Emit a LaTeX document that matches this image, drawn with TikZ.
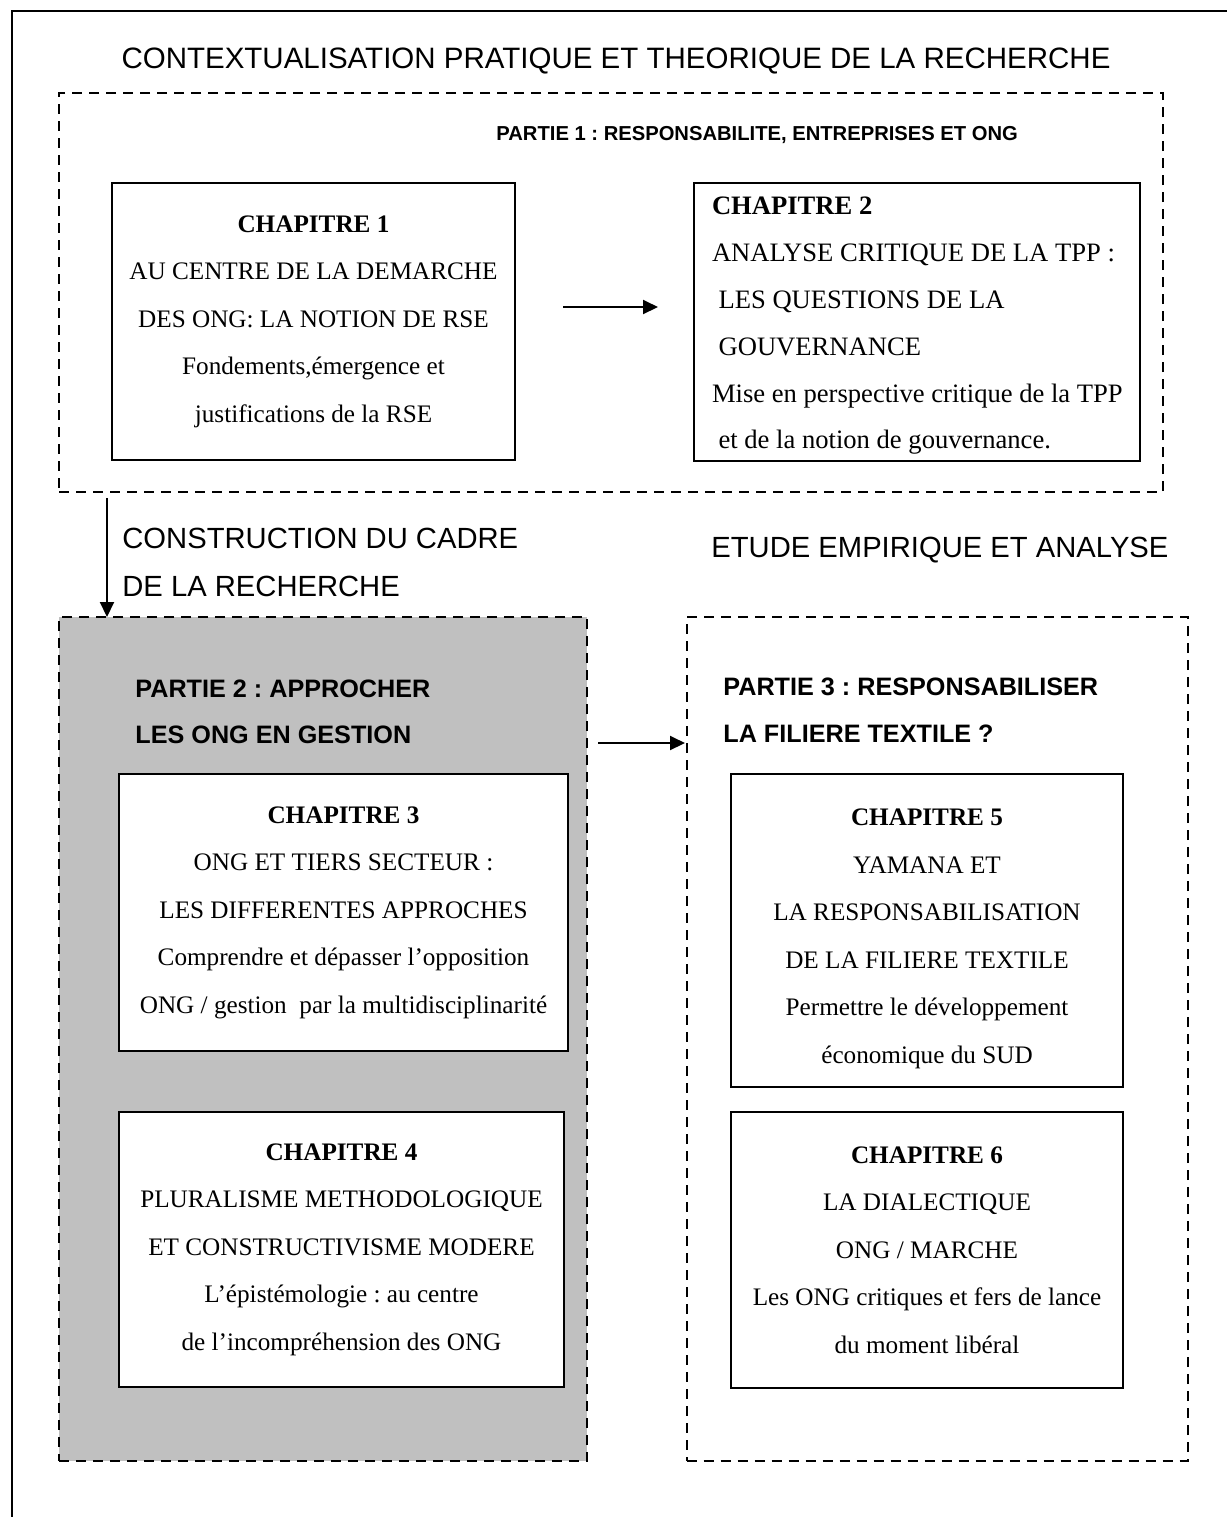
\documentclass[tikz,border=0pt]{standalone}
\usepackage{fontspec}
\setmainfont{Liberation Serif}
\newfontfamily\arialf{Liberation Sans}
\usetikzlibrary{arrows.meta}
\newcommand\chapfont{\fontsize{12.6}{23.75}\selectfont}
\begin{document}
\frenchspacing
\begin{tikzpicture}[x=0.5pt,y=-0.5pt,
  chbox/.style={draw, line width=1pt, fill=white, inner sep=0pt, outer sep=0pt, align=center, font=\chapfont},
  chtext/.style={inner sep=0pt, outer sep=0pt, align=center, font=\chapfont},
  dbox/.style={draw, line width=1pt, dash pattern=on 5pt off 3.5pt, inner sep=0pt, outer sep=0pt},
  sans/.style={font=\fontsize{14.6}{24}\selectfont\arialf, anchor=base west, inner sep=0pt},
  partlbl/.style={font=\fontsize{10.1}{23.5}\selectfont\arialf\bfseries, anchor=base west, inner sep=0pt},
  partlblb/.style={font=\fontsize{12.6}{23.5}\selectfont\arialf\bfseries, anchor=base west, inner sep=0pt},
  arr/.style={line width=1pt, -{Triangle[length=7.5pt,width=7pt]}}]
\useasboundingbox (0,0) rectangle (1227,1517);
% outer frame
\draw[line width=1pt] (1227,10.5) -- (11.5,10.5) -- (11.5,1517);
% title
\node[sans, font=\fontsize{14.75}{24}\selectfont\arialf, anchor=base] (title) at (616,68) {CONTEXTUALISATION PRATIQUE ET THEORIQUE DE LA RECHERCHE};
% part 1 dashed frame
\node[dbox, minimum width=552pt, minimum height=199.5pt] (p1) at (611,292.5) {};
\node[partlbl] (p1l) at (496,140) {PARTIE 1 : RESPONSABILITE, ENTREPRISES ET ONG};
\node[chbox, minimum width=201.5pt, minimum height=138.5pt] (c1) at (313.5,321.5)
  {\textbf{CHAPITRE 1}\\AU CENTRE DE LA DEMARCHE\\DES ONG: LA NOTION DE RSE\\Fondements,émergence et\\justifications de la RSE};
\node[chbox, minimum width=223pt, minimum height=139pt] (c2) at (917,322) {};
\node[chtext, align=left, anchor=west, font=\fontsize{13.3}{23.4}\selectfont] (c2t) at (712,326)
  {\textbf{CHAPITRE 2}\\ANALYSE CRITIQUE DE LA TPP :\\\hspace*{3.3pt}LES QUESTIONS DE LA\\\hspace*{3.3pt}GOUVERNANCE\\Mise en perspective critique de la TPP\\\hspace*{3.3pt}et de la notion de gouvernance.};
\coordinate (a1s) at (563,307);
\coordinate (a1e) at (658,307);
\draw[arr] (a1s) -- (a1e);
% middle labels
\coordinate (a2s) at (107,498);
\coordinate (a2e) at (107,617);
\draw[arr] (a2s) -- (a2e);
\node[sans] (cons1) at (122,548) {CONSTRUCTION DU CADRE};
\node[sans] (cons2) at (122,596) {DE LA RECHERCHE};
\node[sans] (etude) at (711,557) {ETUDE EMPIRIQUE ET ANALYSE};
% part 2
\node[dbox, fill={rgb,255:red,192;green,192;blue,192}, minimum width=264pt, minimum height=422pt] (p2) at (323,1039) {};
\node[partlblb] (p2l1) at (135,697) {PARTIE 2 : APPROCHER};
\node[partlblb] (p2l2) at (135,743) {LES ONG EN GESTION};
\node[chbox, minimum width=224.5pt, minimum height=138.5pt] (c3) at (343.5,912.5)
  {\textbf{CHAPITRE 3}\\ONG ET TIERS SECTEUR :\\LES DIFFERENTES APPROCHES\\Comprendre et dépasser l’opposition\\ONG / gestion\ \ par la multidisciplinarité};
\node[chbox, minimum width=222.5pt, minimum height=137.5pt] (c4) at (341.5,1249.5)
  {\textbf{CHAPITRE 4}\\PLURALISME METHODOLOGIQUE\\ET CONSTRUCTIVISME MODERE\\L’épistémologie : au centre\\de l’incompréhension des ONG};
% part 3
\node[dbox, minimum width=250.5pt, minimum height=422pt] (p3) at (937,1039) {};
\node[partlblb] (p3l1) at (723,695) {PARTIE 3 : RESPONSABILISER};
\node[partlblb] (p3l2) at (723,742) {LA FILIERE TEXTILE ?};
\node[chbox, minimum width=196pt, minimum height=156.5pt] (c5) at (927,930.5) {};
\node[chtext] (c5t) at (927,939)
  {\textbf{CHAPITRE 5}\\YAMANA ET\\LA RESPONSABILISATION\\DE LA FILIERE TEXTILE\\Permettre le développement\\économique du SUD};
\node[chbox, minimum width=196pt, minimum height=138pt] (c6) at (927,1250)
  {\textbf{CHAPITRE 6}\\LA DIALECTIQUE\\ONG / MARCHE\\Les ONG critiques et fers de lance\\du moment libéral};
\coordinate (a3s) at (598,743);
\coordinate (a3e) at (685,743);
\draw[arr] (a3s) -- (a3e);
\end{tikzpicture}
\end{document}
